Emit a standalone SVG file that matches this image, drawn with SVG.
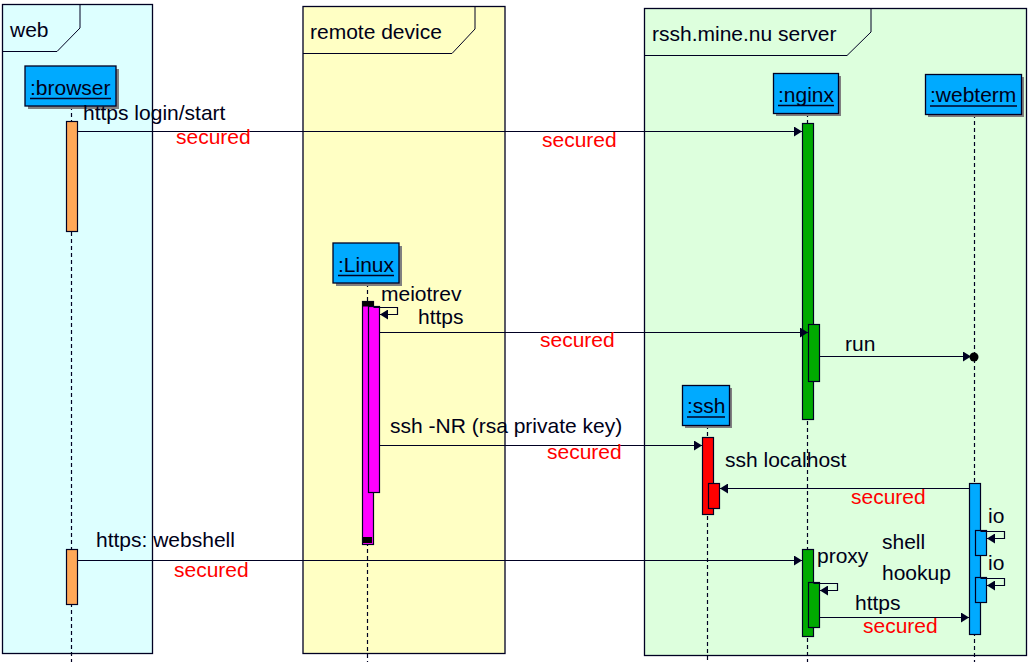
<svg xmlns="http://www.w3.org/2000/svg" width="1033" height="662" viewBox="0 0 1033 662">
<style>
text{font-family:"Liberation Sans",Arial,sans-serif;font-size:21px;fill:#000018}
.sec{fill:#ff0000}
.frame{stroke:#000022;stroke-width:1.3}
.tab{fill:none;stroke:#000022;stroke-width:1}
.node{fill:#00aaff;stroke:#000022;stroke-width:1.3}
.shadow{fill:#808080}
.life{stroke:#000022;stroke-width:1.2;stroke-dasharray:4,3;fill:none}
.msg{stroke:#000022;stroke-width:1.2;fill:none}
.bar{stroke:#000022;stroke-width:1.2}
.ul{stroke:#000022;stroke-width:1.3}
</style>
<defs>
<marker id="arr" viewBox="0 0 8 10" refX="8" refY="5" markerWidth="8" markerHeight="10" markerUnits="userSpaceOnUse" orient="auto">
<path d="M0,0 L8,5 L0,10 z" fill="#000022"/>
</marker>
</defs>
<rect width="1033" height="662" fill="#ffffff"/>

<g id="frame-web">
<rect class="frame" x="2.5" y="4.5" width="150" height="649" fill="#ddffff"/>
<path class="tab" d="M2.5,51.5 H57 L80,28 V4.5"/>
<text x="10" y="37">web</text>
</g>
<g id="frame-remote">
<rect class="frame" x="303" y="6.5" width="202" height="647" fill="#ffffc4"/>
<path class="tab" d="M303,53.5 H452 L475,29 V6.5"/>
<text x="310" y="39">remote device</text>
</g>
<g id="frame-server">
<rect class="frame" x="644.5" y="8.5" width="382" height="647" fill="#ddffdd"/>
<path class="tab" d="M644.5,55.5 H847 L871,32 V8.5"/>
<text x="652" y="41">rssh.mine.nu server</text>
</g>

<g id="lifelines">
<line class="life" x1="71.5" y1="106" x2="71.5" y2="662"/>
<line class="life" x1="367.5" y1="283" x2="367.5" y2="662"/>
<line class="life" x1="707.5" y1="425" x2="707.5" y2="662"/>
<line class="life" x1="807.5" y1="113" x2="807.5" y2="662"/>
<line class="life" x1="974.5" y1="114" x2="974.5" y2="662"/>
</g>

<g id="browser">
<rect class="shadow" x="28" y="69" width="91" height="40"/>
<rect class="node" x="25" y="66" width="91" height="40"/>
<text x="30" y="95">:browser</text>
<line class="ul" x1="30" y1="98.5" x2="111" y2="98.5"/>
<rect class="bar" x="66.5" y="121.5" width="11" height="110" fill="#ffa858"/>
<rect class="bar" x="66.5" y="549.5" width="11" height="55" fill="#ffa858"/>
</g>

<g id="linux">
<rect class="shadow" x="336" y="246" width="66" height="40"/>
<rect class="node" x="333" y="243" width="66" height="40"/>
<text x="338" y="272">:Linux</text>
<line class="ul" x1="338" y1="275.5" x2="394" y2="275.5"/>
<rect class="bar" x="362.5" y="301.5" width="11" height="243" fill="#ff00ff"/>
<rect x="362.5" y="301.5" width="11" height="5" fill="#000000"/>
<rect class="bar" x="368.5" y="306.5" width="11" height="186" fill="#ff00ff"/>
<rect x="363" y="537" width="9" height="6" fill="#000000"/>
</g>

<g id="nginx">
<rect class="shadow" x="776" y="76" width="65" height="40"/>
<rect class="node" x="773.5" y="73.5" width="65" height="40"/>
<text x="778" y="102">:nginx</text>
<line class="ul" x1="778" y1="105.5" x2="834" y2="105.5"/>
<rect class="bar" x="802.5" y="123.5" width="11" height="296" fill="#00aa00"/>
<rect class="bar" x="808.5" y="324.5" width="11" height="57" fill="#00aa00"/>
<rect class="bar" x="802.5" y="549.5" width="11" height="87" fill="#00aa00"/>
<rect class="bar" x="808.5" y="582.5" width="11" height="45" fill="#00aa00"/>
</g>

<g id="webterm">
<rect class="shadow" x="928" y="77" width="96" height="40"/>
<rect class="node" x="925.5" y="74.5" width="96" height="40"/>
<text x="930" y="102">:webterm</text>
<line class="ul" x1="930" y1="106" x2="1017" y2="106"/>
<rect class="bar" x="969.5" y="483.5" width="11" height="151" fill="#00aaff"/>
<rect class="bar" x="975.5" y="530.5" width="11" height="25" fill="#00aaff"/>
<rect class="bar" x="975.5" y="577.5" width="11" height="25" fill="#00aaff"/>
</g>

<g id="ssh">
<rect class="shadow" x="685" y="388" width="47" height="40"/>
<rect class="node" x="682.5" y="385.5" width="47" height="40"/>
<text x="687" y="413">:ssh</text>
<line class="ul" x1="687" y1="417" x2="725" y2="417"/>
<rect class="bar" x="702.5" y="437.5" width="11" height="77" fill="#ff0000"/>
<rect class="bar" x="708.5" y="483.5" width="11" height="25" fill="#ff0000"/>
</g>

<g id="connectors">
<line class="msg" x1="77.5" y1="131.5" x2="802" y2="131.5" marker-end="url(#arr)"/>
<path class="msg" d="M373.5,307.5 H397.5 V314.5 H380" marker-end="url(#arr)"/>
<line class="msg" x1="379.5" y1="332.5" x2="808" y2="332.5" marker-end="url(#arr)"/>
<line class="msg" x1="819.5" y1="356.5" x2="971" y2="356.5" marker-end="url(#arr)"/>
<circle cx="974" cy="357" r="4.5" fill="#000000"/>
<line class="msg" x1="379.5" y1="445.5" x2="702" y2="445.5" marker-end="url(#arr)"/>
<line class="msg" x1="969.5" y1="488.5" x2="720" y2="488.5" marker-end="url(#arr)"/>
<path class="msg" d="M980.5,531.5 H1004.5 V538.5 H987" marker-end="url(#arr)"/>
<path class="msg" d="M980.5,578.5 H1004.5 V585.5 H987" marker-end="url(#arr)"/>
<line class="msg" x1="77.5" y1="560.5" x2="802" y2="560.5" marker-end="url(#arr)"/>
<path class="msg" d="M813.5,583.5 H837.5 V590.5 H820" marker-end="url(#arr)"/>
<line class="msg" x1="819.5" y1="617.5" x2="969" y2="617.5" marker-end="url(#arr)"/>
</g>

<g id="labels">
<text x="83" y="120">https login/start</text>
<text class="sec" x="176" y="144">secured</text>
<text class="sec" x="542" y="147">secured</text>
<text x="381" y="301">meiotrev</text>
<text x="418" y="324">https</text>
<text class="sec" x="540" y="347">secured</text>
<text x="845" y="351">run</text>
<text x="390" y="433">ssh -NR (rsa private key)</text>
<text class="sec" x="547" y="459">secured</text>
<text x="725" y="467">ssh localhost</text>
<text class="sec" x="851" y="504">secured</text>
<text x="988" y="523">io</text>
<text x="882" y="549">shell</text>
<text x="988" y="570">io</text>
<text x="882" y="580">hookup</text>
<text x="96" y="547">https: webshell</text>
<text class="sec" x="174" y="577">secured</text>
<text x="817" y="563">proxy</text>
<text x="855" y="610">https</text>
<text class="sec" x="863" y="633">secured</text>
</g>
</svg>
